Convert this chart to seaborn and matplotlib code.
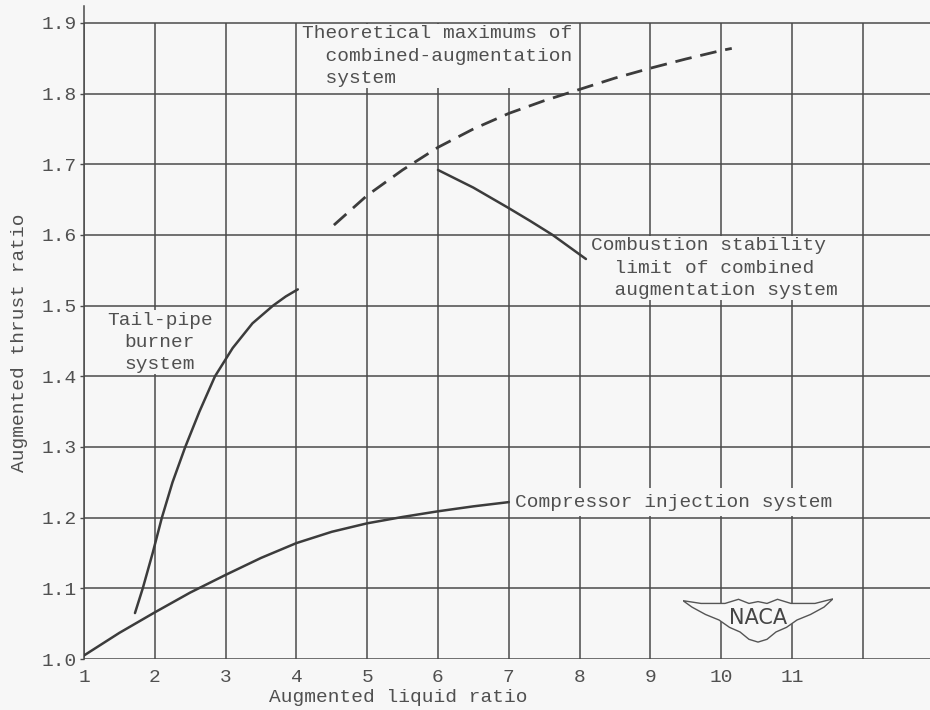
import numpy as np
import pandas as pd
import matplotlib
matplotlib.use("Agg")
import matplotlib.pyplot as plt
from matplotlib.patches import Polygon
import seaborn as sns

# ---------------------------- DATA -----------------------------------

# compressor injection system
comp_x = [1.0, 1.5, 2.0, 2.5, 3.0, 3.5, 4.0, 4.5, 5.0, 5.5, 6.0, 6.5, 7.0]
comp_y = [1.005, 1.037, 1.066, 1.094, 1.119, 1.143, 1.164, 1.180, 1.192, 1.201, 1.209, 1.216, 1.222]

# tail-pipe burner system
tail_x = [1.72, 1.83, 1.97, 2.1, 2.25, 2.43, 2.63, 2.85, 3.1, 3.38, 3.67, 3.85, 4.02]
tail_y = [1.065, 1.1, 1.15, 1.2, 1.25, 1.3, 1.35, 1.4, 1.44, 1.475, 1.5, 1.513, 1.523]

# theoretical maximums (dashed)
theo_x = [4.53, 5.0, 5.5, 6.0, 6.5, 7.0, 7.5, 8.0, 8.5, 9.0, 9.5, 10.0, 10.15]
theo_y = [1.614, 1.656, 1.692, 1.724, 1.75, 1.772, 1.79, 1.806, 1.822, 1.836, 1.849, 1.861, 1.864]

# combustion stability limit
comb_x = [6.0, 6.5, 7.0, 7.3, 7.62, 8.09]
comb_y = [1.692, 1.667, 1.638, 1.62, 1.6, 1.566]

x_ticks = [1, 2, 3, 4, 5, 6, 7, 8, 9, 10, 11]
x_grid = [1, 2, 3, 4, 5, 6, 7, 8, 9, 10, 11, 12]
y_ticks = [1.0, 1.1, 1.2, 1.3, 1.4, 1.5, 1.6, 1.7, 1.8, 1.9]

# ---------------------------- STYLE ----------------------------------

BG = "#f7f7f7"
INK = "#3c3c3c"
TXT = "#505050"

sns.set_theme(style="white")
plt.rcParams["font.family"] = ["Liberation Mono", "DejaVu Sans"]
plt.rcParams["font.size"] = 14

fig = plt.figure(figsize=(9.3, 7.1), dpi=100, facecolor=BG)
ax = fig.add_axes([84 / 930, 51 / 710, 846 / 930, 653 / 710], facecolor=BG)
ax.set_xlim(1, 12.95)
ax.set_ylim(1.0, 1.924)

# grid drawn by hand so it stops at 1.9
ax.hlines(y_ticks, 1, 12.95, color="#4a4a4a", lw=1.1, zorder=1)
ax.vlines(x_grid, 1.0, 1.9, color="#4a4a4a", lw=1.1, zorder=1)

for s in ["top", "right", "bottom"]:
    ax.spines[s].set_visible(False)
ax.spines["left"].set_color("#4a4a4a")
ax.spines["left"].set_linewidth(1.1)

# ---------------------------- CURVES ---------------------------------

sns.lineplot(x=comp_x, y=comp_y, ax=ax, color=INK, lw=1.8, sort=False,
             estimator=None, zorder=4)
sns.lineplot(x=tail_x, y=tail_y, ax=ax, color=INK, lw=1.8, sort=False,
             estimator=None, zorder=4)
sns.lineplot(x=theo_x, y=theo_y, ax=ax, color=INK, lw=2.0, sort=False,
             estimator=None, zorder=4, linestyle=(0, (6, 3.2)))
sns.lineplot(x=comb_x, y=comb_y, ax=ax, color=INK, lw=1.8, sort=False,
             estimator=None, zorder=4)

# ---------------------------- TICKS / LABELS -------------------------

ax.set_xticks(x_ticks)
ax.set_xticklabels([str(v) for v in x_ticks])
ax.set_yticks(y_ticks)
ax.set_yticklabels([f"{v:.1f}" for v in y_ticks])
ax.tick_params(axis="both", colors=TXT, labelsize=14)
ax.tick_params(axis="x", length=0, pad=7)
ax.tick_params(axis="y", length=3, width=1, color="#4a4a4a", pad=2, left=True)

ax.set_xlabel("Augmented liquid ratio", color=TXT, fontsize=14)
ax.xaxis.set_label_coords(0.371, -0.046)
ax.set_ylabel("Augmented thrust ratio", color=TXT, fontsize=14)
ax.yaxis.set_label_coords(-0.066, 0.484)

box = dict(facecolor=BG, edgecolor="none", pad=1)

ax.text(4.08, 1.897, "Theoretical maximums of\n  combined-augmentation\n  system",
        ha="left", va="top", color=TXT, fontsize=14, bbox=box, zorder=3,
        linespacing=1.42)
ax.text(2.07, 1.448, "Tail-pipe\nburner\nsystem", ha="center", va="center",
        multialignment="center", color=TXT, fontsize=14, bbox=box, zorder=3,
        linespacing=1.4)
ax.text(8.16, 1.553, "Combustion stability\n  limit of combined\n  augmentation system",
        ha="left", va="center", color=TXT, fontsize=14, bbox=box, zorder=3,
        linespacing=1.4)
ax.text(7.09, 1.222, "Compressor injection system", ha="left", va="center",
        color=TXT, fontsize=14, bbox=dict(facecolor=BG, edgecolor="none", pad=4),
        zorder=3)

# ---------------------------- NACA LOGO ------------------------------

logo = fig.add_axes([683 / 930, (710 - 643) / 710, 150 / 930, 46 / 710])
logo.set_xlim(0, 1)
logo.set_ylim(0, 1)
logo.axis("off")
wing = [(0.0, 0.92), (0.12, 0.86), (0.28, 0.86), (0.37, 0.95), (0.44, 0.86),
        (0.5, 0.90), (0.56, 0.86), (0.63, 0.95), (0.72, 0.86), (0.88, 0.86),
        (1.0, 0.96), (0.94, 0.78), (0.85, 0.62), (0.76, 0.50), (0.69, 0.34),
        (0.62, 0.24), (0.56, 0.08), (0.5, 0.02), (0.44, 0.08), (0.38, 0.24),
        (0.31, 0.34), (0.24, 0.50), (0.15, 0.62), (0.06, 0.78)]
logo.add_patch(Polygon(wing, closed=True, facecolor=BG, edgecolor="#555555",
                       lw=1.0))
logo.text(0.5, 0.55, "NACA", ha="center", va="center", color="#454545",
          fontsize=15, family="DejaVu Sans")

fig.savefig("out.png", dpi=100, facecolor=BG)
